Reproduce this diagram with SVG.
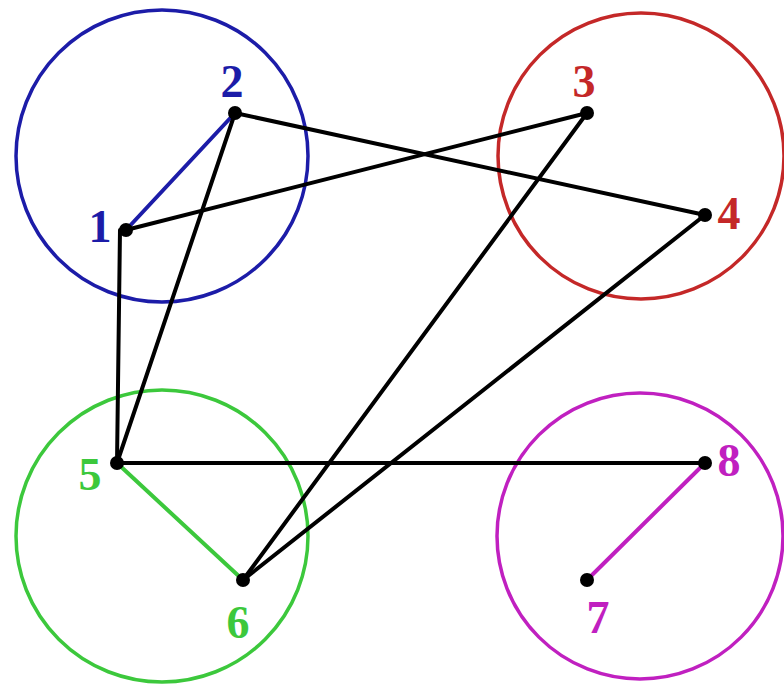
<svg xmlns="http://www.w3.org/2000/svg" width="784" height="687" viewBox="0 0 784 687">
<style>
.grp{fill:none;stroke-width:3.5}
.e{stroke-width:4;stroke-linecap:round}
.dot{fill:#000}
.lbl{font-family:"Liberation Serif","Times New Roman",serif;font-weight:bold;font-size:46px;text-anchor:middle}
</style>
<rect width="784" height="687" fill="#fff"/>
<g id="clusters">
<circle id="c-blue" class="grp" cx="162" cy="156" r="146" stroke="#1c1ca8"/>
<circle id="c-red" class="grp" cx="641" cy="156" r="143" stroke="#c42828"/>
<circle id="c-green" class="grp" cx="162" cy="536" r="146" stroke="#3cc83c"/>
<circle id="c-magenta" class="grp" cx="640" cy="536" r="143" stroke="#c020c0"/>
</g>
<g id="connectors">
<line class="e" x1="126" y1="230" x2="235" y2="113" stroke="#1c1ca8"/>
<line class="e" x1="126" y1="230" x2="587" y2="113" stroke="#000"/>
<line class="e" x1="235" y1="113" x2="705" y2="215" stroke="#000"/>
<line class="e" x1="235" y1="113" x2="117" y2="463" stroke="#000"/>
<line class="e" x1="120" y1="230" x2="117" y2="463" stroke="#000"/>
<line class="e" x1="587" y1="113" x2="243" y2="580" stroke="#000"/>
<line class="e" x1="705" y1="215" x2="243" y2="580" stroke="#000"/>
<line class="e" x1="117" y1="463" x2="705" y2="463" stroke="#000"/>
<line class="e" x1="117" y1="463" x2="243" y2="580" stroke="#3cc83c"/>
<line class="e" x1="587" y1="580" x2="705" y2="463" stroke="#c020c0"/>
</g>
<g id="n1"><circle class="dot" cx="126" cy="230" r="7"/><text class="lbl" x="100" y="242" fill="#1c1ca8">1</text></g>
<g id="n2"><circle class="dot" cx="235" cy="113" r="7"/><text class="lbl" x="232" y="97" fill="#1c1ca8">2</text></g>
<g id="n3"><circle class="dot" cx="587" cy="113" r="7"/><text class="lbl" x="584" y="97" fill="#c42828">3</text></g>
<g id="n4"><circle class="dot" cx="705" cy="215" r="7"/><text class="lbl" x="729" y="229" fill="#c42828">4</text></g>
<g id="n5"><circle class="dot" cx="117" cy="463" r="7"/><text class="lbl" x="90" y="490" fill="#3cc83c">5</text></g>
<g id="n6"><circle class="dot" cx="243" cy="580" r="7"/><text class="lbl" x="238" y="638" fill="#3cc83c">6</text></g>
<g id="n7"><circle class="dot" cx="587" cy="580" r="7"/><text class="lbl" x="598" y="633" fill="#c020c0">7</text></g>
<g id="n8"><circle class="dot" cx="705" cy="463" r="7"/><text class="lbl" x="729" y="476" fill="#c020c0">8</text></g>
</svg>
